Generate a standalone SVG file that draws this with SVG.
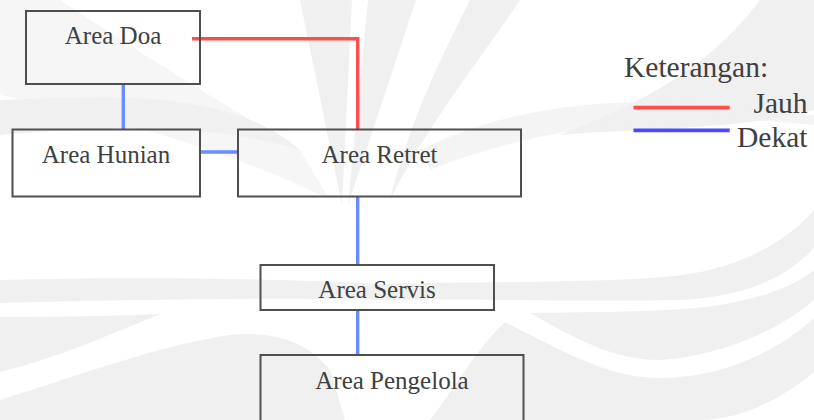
<svg xmlns="http://www.w3.org/2000/svg" width="814" height="420" viewBox="0 0 814 420">
  <style>
    .wm { fill: #f0f0f0; stroke: none; }
    .box { fill: none; stroke: #4f4f4f; stroke-width: 2; }
    .label { font-family: "Liberation Serif", "Times New Roman", serif; font-size: 25px; fill: #404040; text-anchor: middle; }
    .legend { font-family: "Liberation Serif", "Times New Roman", serif; font-size: 29.5px; fill: #404040; }
    .far { fill: none; stroke: #ff4d4d; stroke-width: 3.4; }
    .near { fill: none; stroke: #6b8cff; stroke-width: 3.4; }
  </style>

  <rect width="814" height="420" fill="#ffffff"/>

  <!-- faint background emblem -->
  <g id="emblem">
    <!-- upper rays -->
    <path class="wm" d="M300,0 L352,0 L342,205 Z"/>
    <path class="wm" d="M368,0 L416,0 L348,205 Z"/>
    <path class="wm" d="M0,0 L60,0 C120,40 200,90 300,150 L330,200 C230,150 120,120 0,95 Z" opacity="0.6"/>
    <path class="wm" d="M0,100 C120,95 230,90 300,150 C220,125 120,125 0,135 Z"/>
    <path class="wm" d="M470,0 L520,0 C480,60 430,120 390,200 C410,120 440,60 470,0 Z"/>
    <path class="wm" d="M814,0 L814,110 C740,130 640,128 560,135 C620,110 700,80 760,0 Z"/>
    <path class="wm" d="M420,150 C520,100 650,90 814,115 L814,125 C680,110 540,125 430,170 Z" opacity="0.7"/>
    <!-- main wing band -->
    <path class="wm" d="M0,280 C120,277 260,278 385,284 C520,281 650,283 700,272 C750,262 790,238 814,210 L814,248 C785,280 740,297 680,300 C560,302 470,298 385,300 C260,297 120,300 0,303 Z"/>
    <!-- middle bands -->
    <path class="wm" d="M530,313 C600,312 680,312 720,305 C770,297 800,282 814,270 L814,300 C780,330 720,356 660,360 C610,360 570,335 530,313 Z"/>
    <path class="wm" d="M0,317 C60,317 120,316 160,314 C110,335 50,360 0,372 Z"/>
    <!-- lower bands -->
    <path class="wm" d="M505,322 C570,355 610,378 660,378 C730,378 785,345 814,318 L814,372 C780,400 740,420 700,420 L430,420 C460,380 480,345 505,322 Z"/>
    <path class="wm" d="M0,400 C80,375 160,345 230,335 C280,330 310,345 330,370 L345,420 L0,420 Z"/>
  </g>

  <!-- connectors -->
  <g id="connectors">
    <path class="far" d="M192,38.7 H357.7 V129"/>
    <path class="near" d="M123.3,84 V129"/>
    <path class="near" d="M200,152 H238"/>
    <path class="near" d="M357.7,197 V265"/>
    <path class="near" d="M357.7,310 V355"/>
  </g>

  <!-- areas -->
  <g id="area-doa">
    <rect class="box" x="26" y="11" width="174" height="73"/>
    <text class="label" x="113" y="44">Area Doa</text>
  </g>
  <g id="area-hunian">
    <rect class="box" x="12.5" y="129.5" width="187.5" height="67"/>
    <text class="label" x="106" y="163">Area Hunian</text>
  </g>
  <g id="area-retret">
    <rect class="box" x="238" y="129.5" width="283" height="67"/>
    <text class="label" x="379.5" y="163">Area Retret</text>
  </g>
  <g id="area-servis">
    <rect class="box" x="260.5" y="265" width="233.5" height="45"/>
    <text class="label" x="377" y="298">Area Servis</text>
  </g>
  <g id="area-pengelola">
    <rect class="box" x="260.5" y="355" width="263" height="75"/>
    <text class="label" x="392" y="389">Area Pengelola</text>
  </g>

  <!-- legend -->
  <g id="legend">
    <text class="legend" x="624" y="77">Keterangan:</text>
    <line x1="633.5" y1="107.7" x2="729.7" y2="107.7" stroke="#ff4d4d" stroke-width="3.7"/>
    <text class="legend" x="753.5" y="113">Jauh</text>
    <line x1="633.5" y1="130.3" x2="729.7" y2="130.3" stroke="#4949ff" stroke-width="3.7"/>
    <text class="legend" x="737" y="147">Dekat</text>
  </g>
</svg>
